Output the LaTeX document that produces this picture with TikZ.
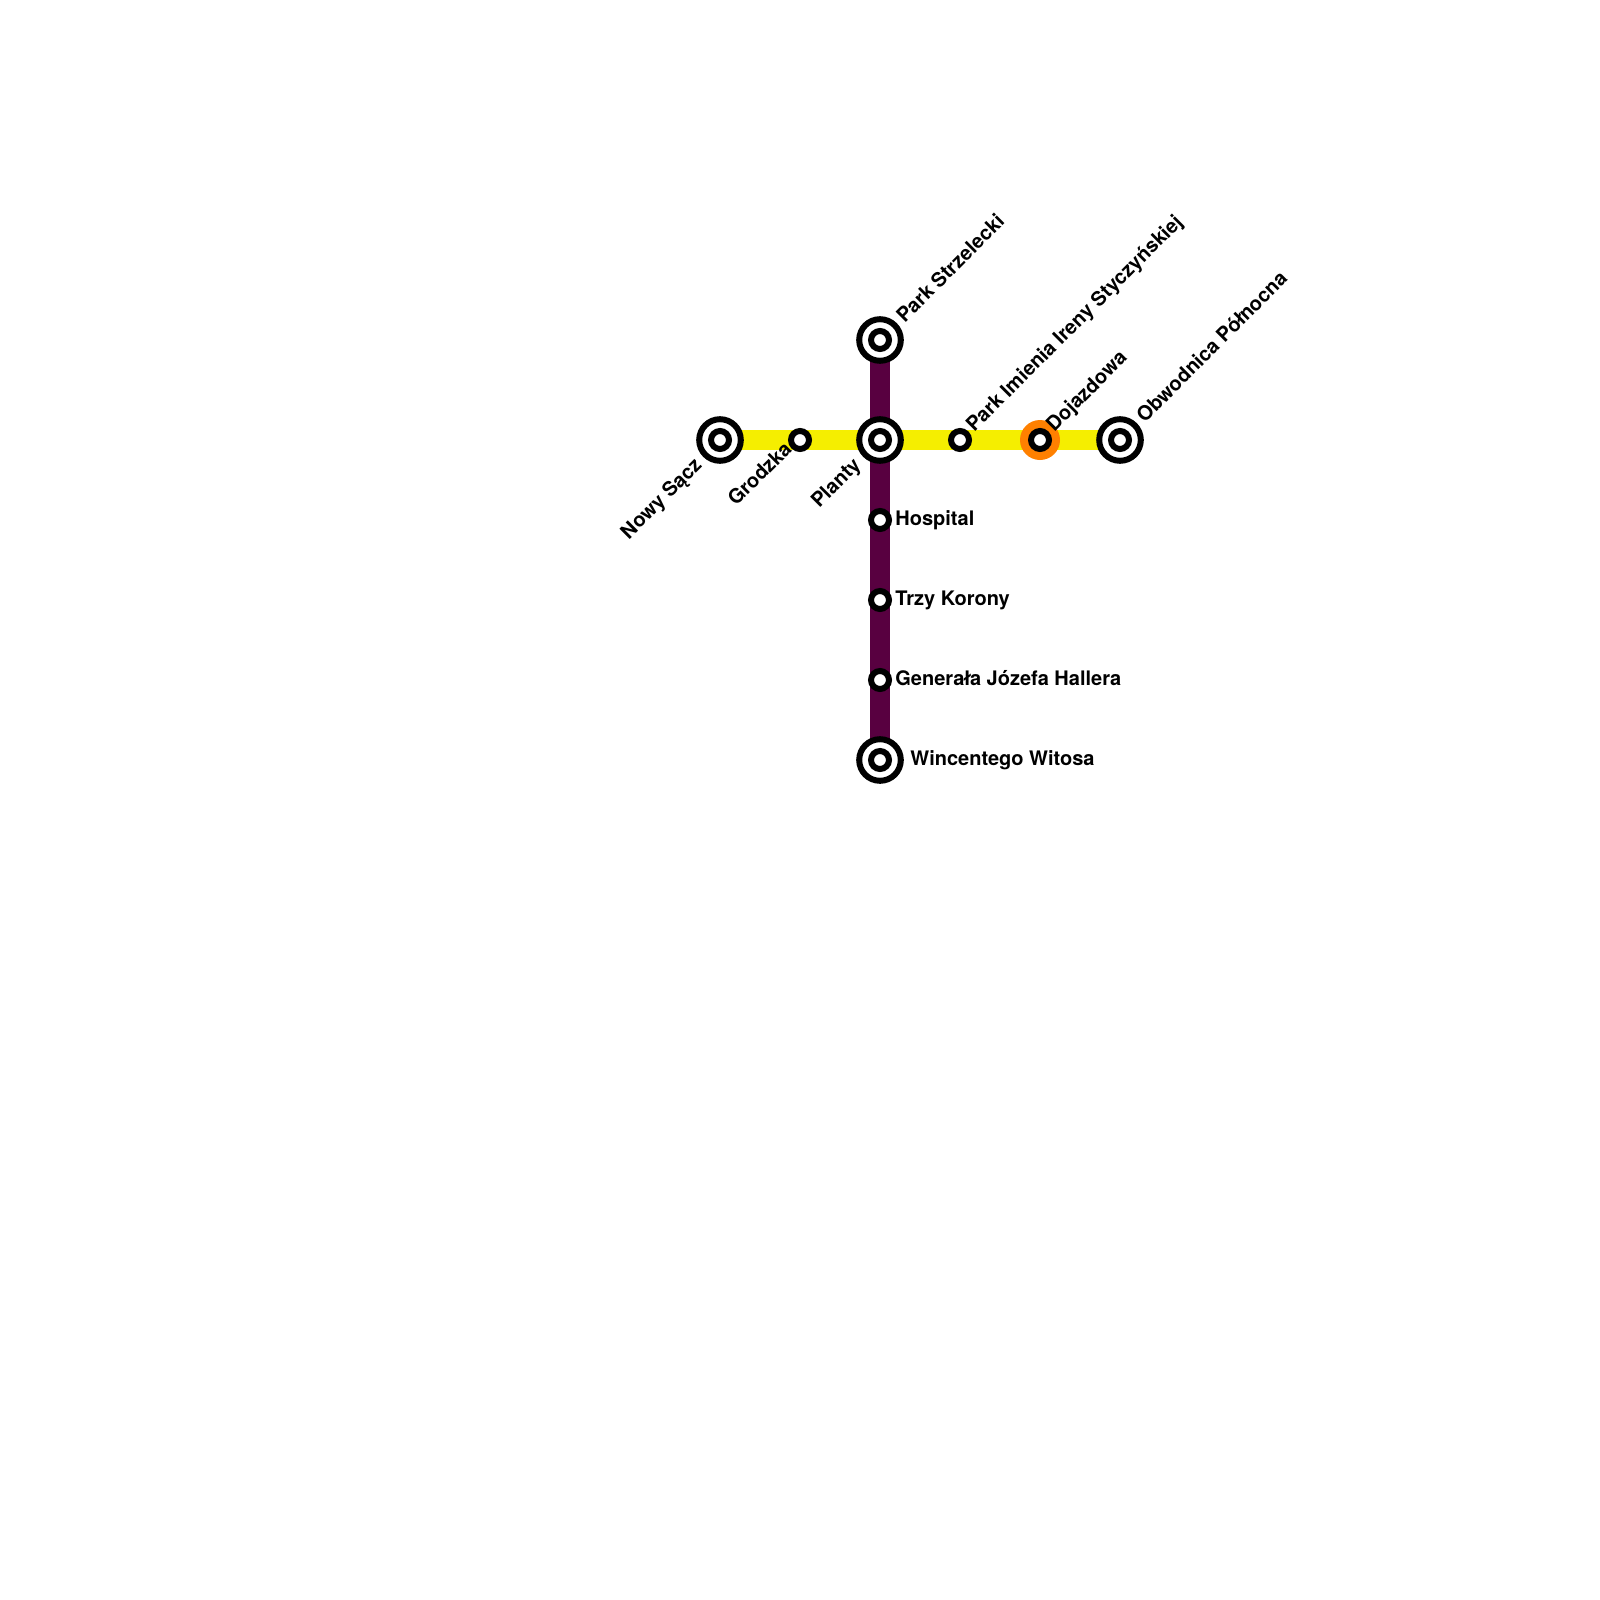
\documentclass[tikz,border=0pt]{standalone}
\usepackage{fontspec}
\setmainfont{TeX Gyre Heros}
\usetikzlibrary{backgrounds}
\definecolor{lineY}{HTML}{F5EE00}
\definecolor{lineP}{HTML}{580040}
\definecolor{hub}{HTML}{FF8000}
\newcommand{\tightl}{\kern-0.7pt ł\kern-0.7pt{}}
\tikzset{
  x=0.5pt,y=-0.5pt,
  termring/.style={circle,draw=black,fill=white,line width=3pt,minimum size=20.8pt,inner sep=0pt},
  stopring/.style={circle,draw=black,fill=white,line width=3pt,minimum size=9pt,inner sep=0pt},
  hubdisc/.style={circle,fill=hub,minimum size=20pt,inner sep=0pt},
  yline/.style={draw=lineY,line width=10pt},
  pline/.style={draw=lineP,line width=10pt},
  lab/.style={font=\bfseries\fontsize{10}{12}\selectfont,text=black,inner sep=0pt,anchor=base west},
  dlab/.style={lab,rotate=45},
}
\begin{document}
\begin{tikzpicture}
\useasboundingbox (0,0) rectangle (1600,1600);
% terminals and interchange
\node[termring] (nowy) at (720,440) {};
\node[stopring] (nowyc) at (720,440) {};
\node[termring] (planty) at (880,440) {};
\node[stopring] (plantyc) at (880,440) {};
\node[termring] (strz) at (880,340) {};
\node[stopring] (strzc) at (880,340) {};
\node[termring] (obw) at (1120,440) {};
\node[stopring] (obwc) at (1120,440) {};
\node[termring] (witos) at (880,760) {};
\node[stopring] (witosc) at (880,760) {};
% stops
\node[stopring] (grod) at (800,440) {};
\node[stopring] (irena) at (960,440) {};
\node[hubdisc] (dojd) at (1040,440) {};
\node[stopring] (doj) at (1040,440) {};
\node[stopring] (hosp) at (880,520) {};
\node[stopring] (trzy) at (880,600) {};
\node[stopring] (hall) at (880,680) {};
\begin{scope}[on background layer]
\path[pline] (strz.center) -- (planty.center) -- (hosp.center) -- (trzy.center) -- (hall.center) -- (witos.center);
\path[yline] (nowy.center) -- (grod.center) -- (planty.center) -- (irena.center) -- (doj.center) -- (obw.center);
\end{scope}
% labels
\node[dlab] (lstrz) at (904.5,324) {Park Strzelecki};
\node[dlab] (lirena) at (974,433) {Park Imienia Ireny Styczyńskiej};
\node[dlab] (ldoj) at (1054,433) {Dojazdowa};
\node[dlab] (lobw) at (1144.5,424) {Obwodnica Pó\tightl nocna};
\node[lab,rotate=45,anchor=base east] (lnowy) at (703,466) {Nowy Sącz};
\node[lab,rotate=45,anchor=base east] (lgrod) at (793,450) {Grodzka};
\node[lab,rotate=45,anchor=base east] (lplanty) at (862,466) {Planty};
\node[lab] (lhosp) at (895,525) {Hospital};
\node[lab] (ltrzy) at (895,605) {Trzy Korony};
\node[lab] (lhall) at (895,685) {Genera\tightl a Józefa Hallera};
\node[lab] (lwitos) at (910,765) {Wincentego Witosa};
\end{tikzpicture}
\end{document}
